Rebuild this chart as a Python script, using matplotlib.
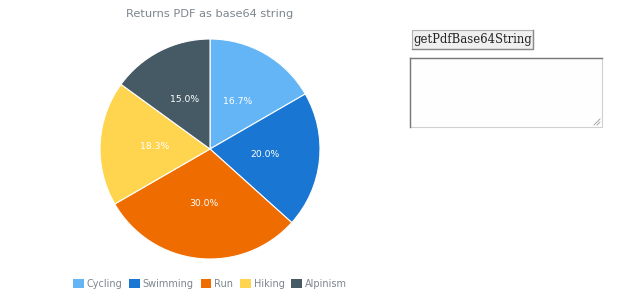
import matplotlib
matplotlib.use("Agg")
import matplotlib.pyplot as plt
from matplotlib.patches import Rectangle, Patch

categories = ["Cycling", "Swimming", "Run", "Hiking", "Alpinism"]
values = [10, 12, 18, 11, 9]
colors = ["#64B5F6", "#1976D2", "#EF6C00", "#FFD54F", "#455A64"]
title = "Returns PDF as base64 string"
button_text = "getPdfBase64String"

W, H = 620, 300
fig = plt.figure(figsize=(W / 100, H / 100), dpi=100)
fig.patch.set_facecolor("white")

# pie axes: center (210,149), radius 110
cx, cy, r = 210, 149, 110
ax = fig.add_axes([(cx - r) / W, 1 - (cy + r) / H, 2 * r / W, 2 * r / H])
wedges, texts, autotexts = ax.pie(
    values, colors=colors, startangle=90, counterclock=False,
    autopct="%1.1f%%", pctdistance=0.5,
    wedgeprops=dict(edgecolor="white", linewidth=0.8),
    textprops=dict(color="white", fontsize=6.7),
)
ax.set_xlim(-1, 1)
ax.set_ylim(-1, 1)
ax.set_aspect("equal")
ax.axis("off")

fig.text(210 / W, 1 - 14 / H, title, ha="center", va="center",
         fontsize=8.2, color="#7c868e")

# legend
handles = [Patch(facecolor=c, edgecolor="none") for c in colors]
leg = fig.legend(handles, categories, loc="center", bbox_to_anchor=(210 / W, 1 - 284 / H),
                 ncol=5, frameon=False, fontsize=7, handlelength=1.1, handleheight=1.1,
                 handletextpad=0.3, columnspacing=0.7)
for t in leg.get_texts():
    t.set_color("#7c868e")

# button
bx0, by0, bx1, by1 = 412, 30, 533, 49
fig.patches.append(Rectangle((bx0 / W, 1 - by1 / H), (bx1 - bx0) / W, (by1 - by0) / H,
                             transform=fig.transFigure, facecolor="#efefef",
                             edgecolor="#b0b0b0", linewidth=0.8))
fig.add_artist(plt.Line2D([bx0 / W, bx1 / W, bx1 / W], [1 - by1 / H, 1 - by1 / H, 1 - by0 / H],
                          transform=fig.transFigure, color="#8a8a8a", linewidth=1.0))
fig.text((bx0 + bx1) / 2 / W, 1 - (by0 + by1) / 2 / H, button_text, ha="center", va="center",
         fontsize=8.4, color="#222222", family="DejaVu Serif")

# textarea
tx0, ty0, tx1, ty1 = 410, 58, 602, 127
fig.patches.append(Rectangle((tx0 / W, 1 - ty1 / H), (tx1 - tx0) / W, (ty1 - ty0) / H,
                             transform=fig.transFigure, facecolor="#fefefe",
                             edgecolor="#d0d0d0", linewidth=0.8))
fig.add_artist(plt.Line2D([tx0 / W, tx0 / W], [1 - ty1 / H, 1 - ty0 / H],
                          transform=fig.transFigure, color="#777777", linewidth=1.0))
fig.add_artist(plt.Line2D([tx0 / W, tx1 / W], [1 - ty0 / H, 1 - ty0 / H],
                          transform=fig.transFigure, color="#777777", linewidth=1.0))
# resize grip
for k in (3, 6):
    fig.add_artist(plt.Line2D([(tx1 - 2 - k) / W, (tx1 - 2) / W], [1 - (ty1 - 2) / H, 1 - (ty1 - 2 - k) / H],
                              transform=fig.transFigure, color="#999999", linewidth=0.6))

fig.savefig("out.png", dpi=100)
